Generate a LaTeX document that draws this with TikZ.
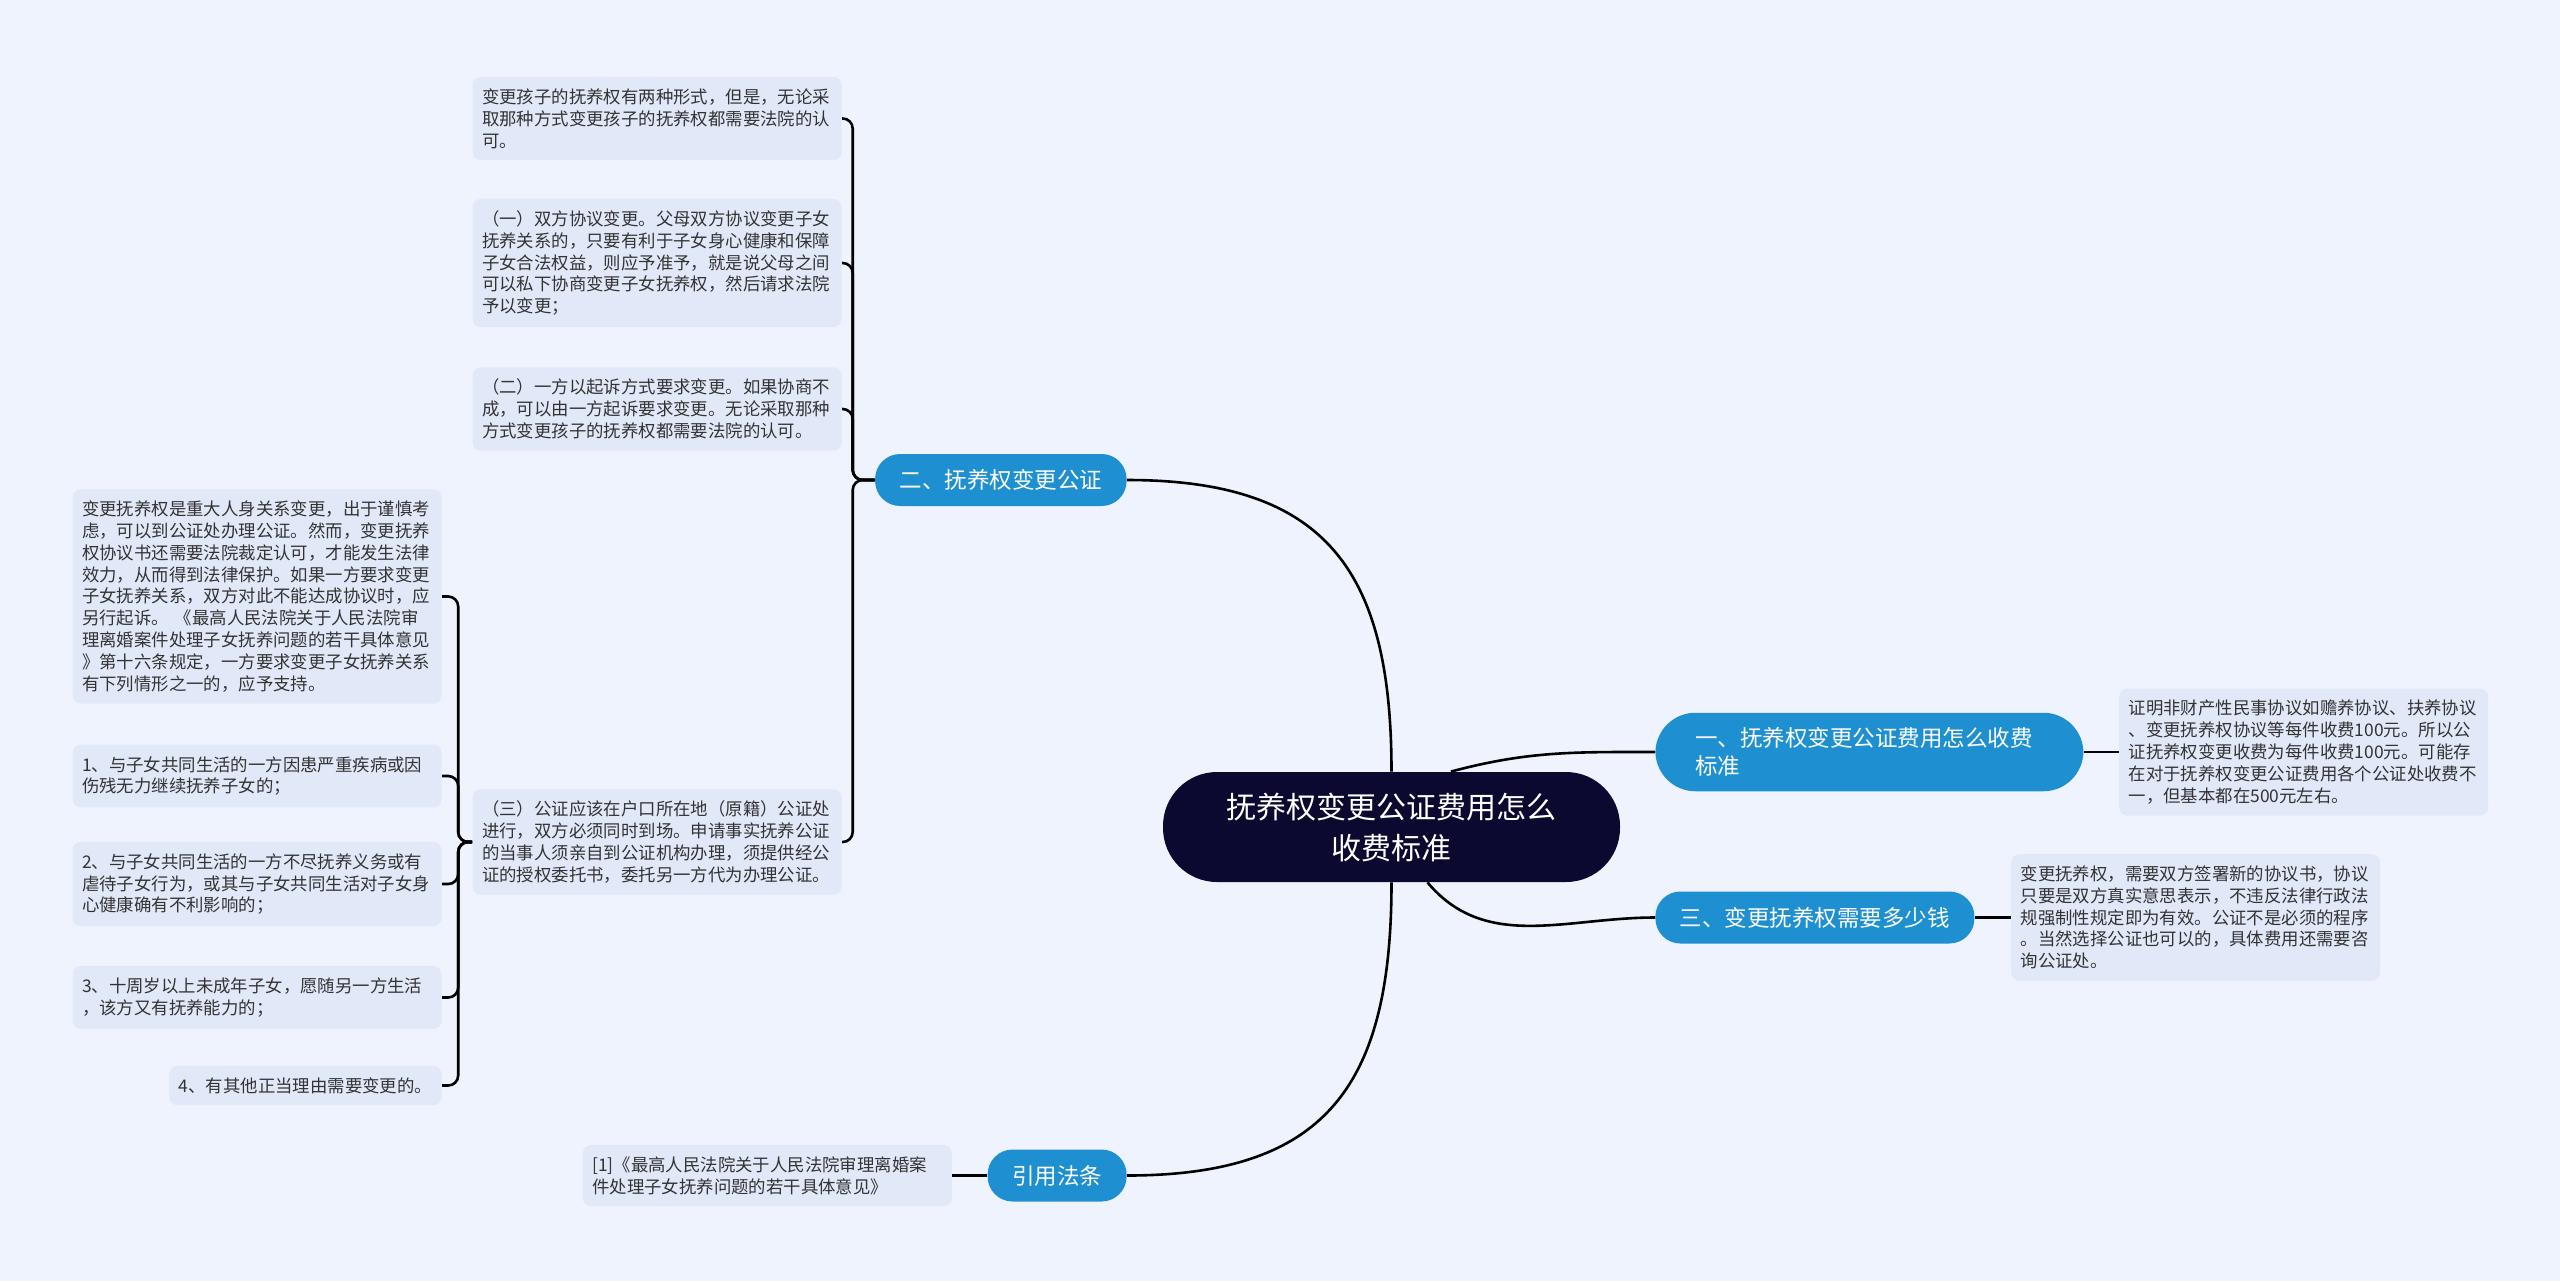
\documentclass[tikz,border=0pt]{standalone}
\usepackage{fontspec}
\setmainfont{Noto Sans CJK SC}
\usepackage{xcolor}
\definecolor{pagebg}{HTML}{EEF3FD}
\definecolor{leaffill}{HTML}{E1E9F9}
\definecolor{branchblue}{HTML}{1E8FD0}
\definecolor{rootnavy}{HTML}{0B0930}
\definecolor{leaftext}{HTML}{333333}
\usepackage{tikz}
\usetikzlibrary{positioning, calc}
\tikzset{
  rootbox/.style  ={rectangle, rounded corners=27pt, fill=rootnavy, text=white, align=center,
                    minimum width=228.5pt, minimum height=55pt, font=\fontsize{15}{20.5}\selectfont},
  branchbox/.style={rectangle, rounded corners=12.5pt, fill=branchblue, text=white,
                    inner xsep=12.25pt, minimum height=26pt, font=\fontsize{11.25}{14}\selectfont},
  leaf/.style     ={rectangle, rounded corners=4pt, fill=leaffill, text=leaftext, align=left,
                    inner xsep=4.75pt, inner ysep=5.8pt, font=\fontsize{8.7}{10.9}\selectfont},
  leafw/.style    ={leaf, text width=175pt},
  link/.style     ={line width=1.3pt, color=black},
  spine/.style    ={link, rounded corners=5pt},
}
\begin{document}
\begin{tikzpicture}[x=0.5pt, y=-0.5pt]
  \fill[pagebg] (0,0) rectangle (2560,1281);
  \useasboundingbox (0,0) rectangle (2560,1281);

  \node[rootbox] (root) at (1391.5,827) {抚养权变更公证费用怎么\\收费标准};
  \node[branchbox, anchor=east] (b2) at (1127,480) {二、抚养权变更公证};
  \node[branchbox, anchor=west, align=left, text width=174pt, inner xsep=20pt, inner ysep=7.4pt,
        rounded corners=20pt] (b1) at (1655,752) {一、抚养权变更公证费用怎么收费\\标准};
  \node[branchbox, anchor=west] (b3) at (1655,917.5) {三、变更抚养权需要多少钱};
  \node[branchbox, anchor=east] (b4) at (1127,1175.5) {引用法条};

  \node[leafw, right=17.5pt of b1] (r1) {证明非财产性民事协议如赡养协议、扶养协议\\、变更抚养权协议等每件收费100元。所以公\\证抚养权变更收费为每件收费100元。可能存\\在对于抚养权变更公证费用各个公证处收费不\\一，但基本都在500元左右。};
  \node[leafw, right=18pt of b3] (r3) {变更抚养权，需要双方签署新的协议书，协议\\只要是双方真实意思表示，不违反法律行政法\\规强制性规定即为有效。公证不是必须的程序\\。当然选择公证也可以的，具体费用还需要咨\\询公证处。};
  \node[leafw, left=17.5pt of b4] (cite) {[1]《最高人民法院关于人民法院审理离婚案\\件处理子女抚养问题的若干具体意见》};

  \node[leafw, anchor=east] (s1) at (842,118.5) {变更孩子的抚养权有两种形式，但是，无论采\\取那种方式变更孩子的抚养权都需要法院的认\\可。};
  \node[leafw, anchor=east] (s2) at (842,263) {（一）双方协议变更。父母双方协议变更子女\\抚养关系的，只要有利于子女身心健康和保障\\子女合法权益，则应予准予，就是说父母之间\\可以私下协商变更子女抚养权，然后请求法院\\予以变更；};
  \node[leafw, anchor=east] (s3) at (842,409) {（二）一方以起诉方式要求变更。如果协商不\\成，可以由一方起诉要求变更。无论采取那种\\方式变更孩子的抚养权都需要法院的认可。};
  \node[leafw, anchor=east] (s4) at (842,842) {（三）公证应该在户口所在地（原籍）公证处\\进行，双方必须同时到场。申请事实抚养公证\\的当事人须亲自到公证机构办理，须提供经公\\证的授权委托书，委托另一方代为办理公证。};

  \node[leafw, anchor=east] (t0) at (442,596.5) {变更抚养权是重大人身关系变更，出于谨慎考\\虑，可以到公证处办理公证。然而，变更抚养\\权协议书还需要法院裁定认可，才能发生法律\\效力，从而得到法律保护。如果一方要求变更\\子女抚养关系，双方对此不能达成协议时，应\\另行起诉。 《最高人民法院关于人民法院审\\理离婚案件处理子女抚养问题的若干具体意见\\》第十六条规定，一方要求变更子女抚养关系\\有下列情形之一的，应予支持。};
  \node[leafw, anchor=east] (t1) at (442,776) {1、与子女共同生活的一方因患严重疾病或因\\伤残无力继续抚养子女的；};
  \node[leafw, anchor=east] (t2) at (442,884) {2、与子女共同生活的一方不尽抚养义务或有\\虐待子女行为，或其与子女共同生活对子女身\\心健康确有不利影响的；};
  \node[leafw, anchor=east] (t3) at (442,997.5) {3、十周岁以上未成年子女，愿随另一方生活\\，该方又有抚养能力的；};
  \node[leaf, anchor=east] (t4) at (442,1085.5) {4、有其他正当理由需要变更的。};

  \draw[link] (root.north) to[out=90, in=0, looseness=1.3] (b2.east);
  \draw[link] (root.south) to[out=-90, in=0, looseness=1.3] (b4.east);
  \draw[link] (root.43) to[out=15, in=180] (b1.west);
  \draw[link] (root.-57) to[out=-50, in=180] (b3.west);
  \draw[link] (b1.east) -- (r1.west);
  \draw[link] (b3.east) -- (r3.west);
  \draw[link] (cite.east) -- (b4.west);

  \coordinate[left=11pt of b2.west] (j2);
  \foreach \s in {s1,s2,s3,s4}
    \draw[spine] (b2.west) -- (j2) |- (\s.east);
  \coordinate[left=7pt of s4.west] (j4);
  \foreach \t in {t0,t1,t2,t3,t4}
    \draw[spine] (s4.west) -- (j4) |- (\t.east);
\end{tikzpicture}
\end{document}
